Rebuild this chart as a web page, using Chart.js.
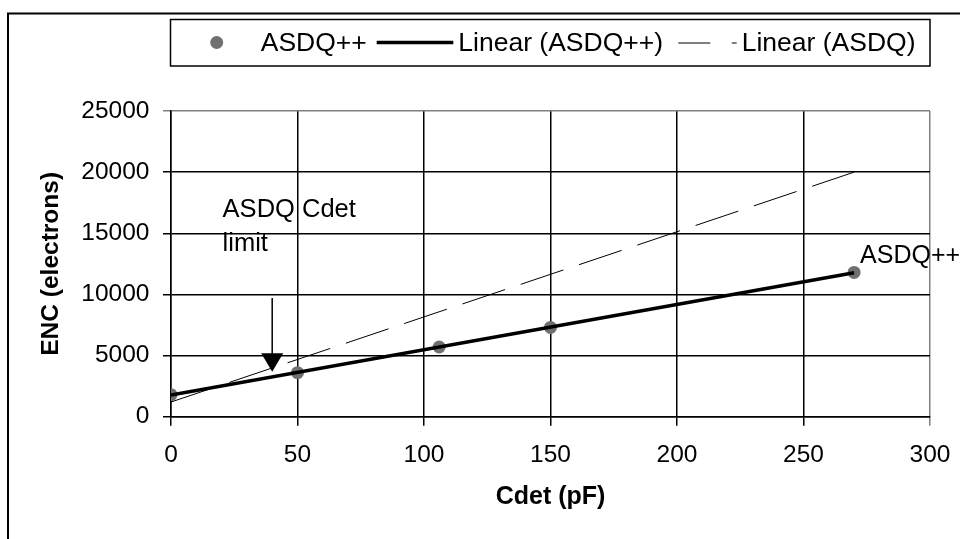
<!DOCTYPE html>
<html>
<head>
<meta charset="utf-8">
<script src="https://cdn.jsdelivr.net/npm/chart.js@4.4.1/dist/chart.umd.min.js"></script>
<style>
  html, body { margin: 0; padding: 0; background: #fff; }
  #wrap { width: 960px; height: 539px; }
</style>
</head>
<body>
<div id="wrap"><canvas id="encChart" width="960" height="539"></canvas></div>
<script>
// Mesures ASDQ++ : ENC en fonction de Cdet
const cdetValues = [0, 50, 106, 150, 270];
const encAsdqPlus = [1800, 3600, 5700, 7300, 11800];

// Droites de tendance (extrémités)
const trendPlusX = [0, 270];
const trendPlusY = [1770, 11780];
const trendAsdqX = [0, 270];
const trendAsdqY = [1200, 20000];

const xTickValues = [0, 50, 100, 150, 200, 250, 300];
const yTickValues = [0, 5000, 10000, 15000, 20000, 25000];

const seriesLabels = ['ASDQ++', 'Linear (ASDQ++)', 'Linear (ASDQ)'];

// Annotation "ASDQ Cdet limit" (coordonnées données)
const limitCdet = 40;
const limitArrowTop = 9700;
const limitArrowTip = 3680;
const limitTextLines = ['ASDQ Cdet', 'limit'];

const FONT = "'Liberation Sans', Arial, Helvetica, sans-serif";
Chart.defaults.font.family = FONT;
Chart.defaults.color = '#000';

const toPoints = (xs, ys) => xs.map((x, i) => ({ x, y: ys[i] }));

/** Fond blanc + cadre extérieur */
const frame = {
  id: 'frame',
  beforeDraw(chart) {
    const ctx = chart.ctx;
    ctx.save();
    ctx.fillStyle = '#fff';
    ctx.fillRect(0, 0, chart.width, chart.height);
    ctx.strokeStyle = '#000';
    ctx.lineWidth = 2;
    ctx.strokeRect(8, 13.5, chart.width + 20, chart.height + 20);
    ctx.restore();
  }
};

/** Légende façon Excel, en haut dans un cadre */
const boxLegend = {
  id: 'boxLegend',
  afterDraw(chart) {
    const ctx = chart.ctx;
    const ds = chart.data.datasets;
    const cy = 42.5;
    ctx.save();
    ctx.strokeStyle = '#000';
    ctx.lineWidth = 1.5;
    ctx.strokeRect(170.5, 19.5, 759.5, 46.5);

    ctx.font = '26.5px ' + FONT;
    ctx.textBaseline = 'middle';
    ctx.fillStyle = '#000';

    // marqueur
    ctx.fillStyle = ds[0].backgroundColor;
    ctx.beginPath();
    ctx.arc(216.7, cy, 6.5, 0, Math.PI * 2);
    ctx.fill();
    ctx.fillStyle = '#000';
    ctx.fillText(ds[0].label, 260.7, cy + 1);

    // tendance ASDQ++
    ctx.strokeStyle = ds[1].borderColor;
    ctx.lineWidth = ds[1].borderWidth;
    ctx.beginPath();
    ctx.moveTo(376.7, cy);
    ctx.lineTo(453.3, cy);
    ctx.stroke();
    ctx.fillText(ds[1].label, 458.3, cy + 1);

    // tendance ASDQ (tirets)
    ctx.strokeStyle = ds[2].borderColor;
    ctx.lineWidth = 1;
    ctx.setLineDash([32, 21.5]);
    ctx.beginPath();
    ctx.moveTo(678.3, cy + 0.5);
    ctx.lineTo(736.7, cy + 0.5);
    ctx.stroke();
    ctx.setLineDash([]);
    ctx.fillText(ds[2].label, 741.7, cy + 1);
    ctx.restore();
  }
};

/** Flèche + textes d'annotation */
const annotations = {
  id: 'annotations',
  afterDatasetsDraw(chart) {
    const ctx = chart.ctx;
    const xs = chart.scales.x;
    const ys = chart.scales.y;
    ctx.save();
    ctx.fillStyle = '#000';
    ctx.strokeStyle = '#000';

    // texte "ASDQ Cdet limit"
    ctx.font = '25.5px ' + FONT;
    ctx.textBaseline = 'alphabetic';
    ctx.textAlign = 'left';
    const tx = xs.getPixelForValue(20.4);
    const ty = ys.getPixelForValue(16300);
    limitTextLines.forEach((t, i) => ctx.fillText(t, tx, ty + i * 33.5));

    // flèche
    const ax = xs.getPixelForValue(limitCdet);
    const aTop = ys.getPixelForValue(limitArrowTop);
    const aTip = ys.getPixelForValue(limitArrowTip);
    const headH = 18.5;
    ctx.lineWidth = 1.5;
    ctx.beginPath();
    ctx.moveTo(ax, aTop);
    ctx.lineTo(ax, aTip - headH + 1);
    ctx.stroke();
    ctx.beginPath();
    ctx.moveTo(ax - 11, aTip - headH);
    ctx.lineTo(ax + 11, aTip - headH);
    ctx.lineTo(ax, aTip);
    ctx.closePath();
    ctx.fill();

    // étiquette du dernier point
    const last = cdetValues.length - 1;
    const px = xs.getPixelForValue(cdetValues[last]);
    const py = ys.getPixelForValue(encAsdqPlus[last]);
    ctx.font = '25px ' + FONT;
    ctx.fillText('ASDQ++', px + 6, py - 9.5);
    ctx.restore();
  }
};

new Chart(document.getElementById('encChart'), {
  type: 'scatter',
  data: {
    datasets: [
      {
        label: seriesLabels[0],
        data: toPoints(cdetValues, encAsdqPlus),
        backgroundColor: '#707070',
        borderColor: '#707070',
        borderWidth: 0,
        pointRadius: 6.5,
        showLine: false,
        order: 2
      },
      {
        label: seriesLabels[1],
        data: toPoints(trendPlusX, trendPlusY),
        borderColor: '#000',
        backgroundColor: '#000',
        borderWidth: 3.5,
        pointRadius: 0,
        showLine: true,
        fill: false,
        order: 0
      },
      {
        label: seriesLabels[2],
        data: toPoints(trendAsdqX, trendAsdqY),
        borderColor: '#000',
        backgroundColor: '#000',
        borderWidth: 1,
        borderDash: [45, 16.5],
        pointRadius: 0,
        showLine: true,
        fill: false,
        order: 1
      }
    ]
  },
  options: {
    responsive: false,
    animation: false,
    devicePixelRatio: 1,
    layout: { padding: { left: 0, right: 30, top: 111, bottom: 0 } },
    plugins: {
      legend: { display: false },
      tooltip: { enabled: false }
    },
    scales: {
      x: {
        type: 'linear',
        min: 0,
        max: 300,
        afterBuildTicks: scale => { scale.ticks = xTickValues.map(v => ({ value: v })); },
        afterFit: scale => {
          scale.height = 122.3;
          scale.paddingLeft = 0;
          scale.paddingRight = 0;
        },
        ticks: { font: { size: 24.5 }, color: '#000', padding: 15, callback: v => String(v) },
        grid: {
          color: ctx => (ctx.tick && ctx.tick.value === 300 ? '#808080' : '#000'),
          lineWidth: 1.5,
          tickLength: 9
        },
        border: { color: '#000', width: 1.5 },
        title: {
          display: true,
          text: 'Cdet (pF)',
          font: { size: 25, weight: 'bold' },
          color: '#000',
          padding: { top: 0, bottom: 27 }
        }
      },
      y: {
        type: 'linear',
        min: 0,
        max: 25000,
        afterBuildTicks: scale => { scale.ticks = yTickValues.map(v => ({ value: v })); },
        afterFit: scale => { scale.width = 171; },
        ticks: { font: { size: 24.5 }, color: '#000', padding: 13.5, callback: v => String(v) },
        grid: {
          color: ctx => (ctx.tick && ctx.tick.value === 25000 ? '#808080' : '#000'),
          lineWidth: 1.5,
          tickLength: 8
        },
        border: { color: '#000', width: 1.5 },
        title: {
          display: true,
          text: 'ENC (electrons)',
          font: { size: 24.5, weight: 'bold' },
          color: '#000',
          padding: { top: 37, bottom: 0 }
        }
      }
    }
  },
  plugins: [frame, boxLegend, annotations]
});
</script>
</body>
</html>
